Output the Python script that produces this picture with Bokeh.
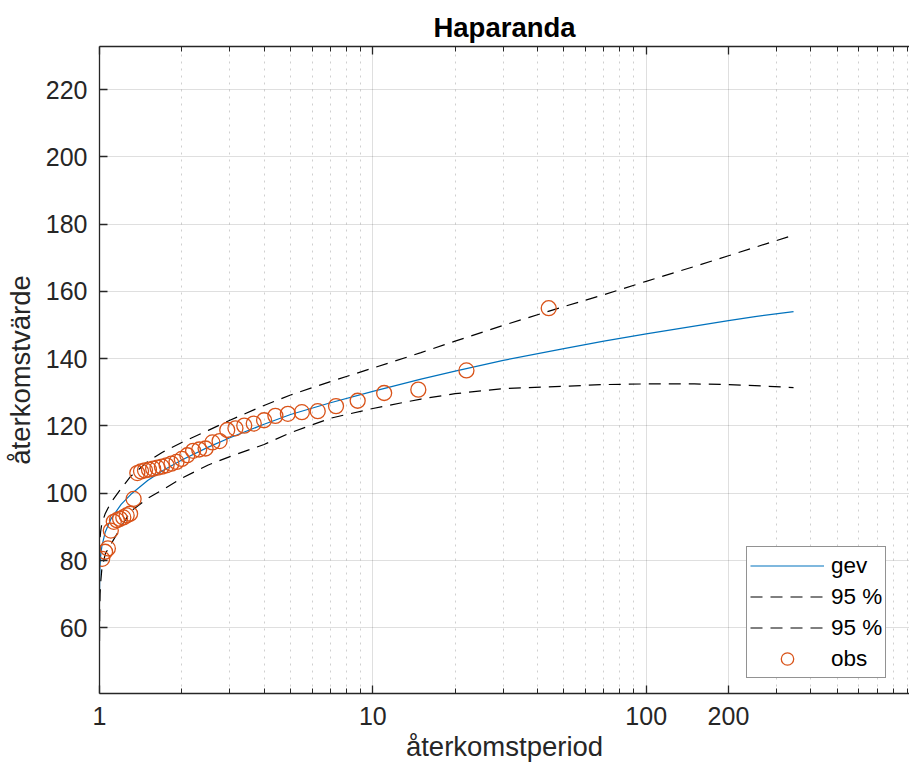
from bokeh.plotting import figure
from bokeh.models import (Range1d, FixedTicker, LogAxis, Legend, LegendItem,
                          CustomJSTickFormatter)
from bokeh.embed import file_html
from bokeh.resources import INLINE

# ---- data ----
title_text = "Haparanda"
x_label = "återkomstperiod"
y_label = "återkomstvärde"

# observed values, ranked from the largest down, with their return periods
obs_T = [44, 22, 14.667, 11, 8.8, 7.333, 6.286, 5.5, 4.889, 4.4,
         4.0, 3.667, 3.385, 3.143, 2.933, 2.75, 2.588, 2.444, 2.316, 2.2,
         2.095, 2.0, 1.913, 1.833, 1.76, 1.692, 1.63, 1.571, 1.517, 1.467,
         1.419, 1.375, 1.333, 1.294, 1.257, 1.222, 1.189, 1.158, 1.128, 1.1,
         1.073, 1.048, 1.023]
obs_val = [155.0, 136.5, 130.8, 129.8, 127.5, 125.9, 124.4, 124.1, 123.6, 123.0,
           121.7, 120.7, 120.1, 119.3, 118.8, 115.5, 115.1, 113.3, 113.0, 112.6,
           111.3, 110.2, 109.3, 108.8, 108.3, 107.9, 107.6, 107.3, 107.0, 106.8,
           106.5, 106.0, 98.3, 93.9, 93.4, 92.8, 92.4, 92.0, 91.5, 88.9,
           83.6, 82.6, 80.5]

# fitted curve and 95 % band, read at these return periods
curve_T = [1.0003, 1.002, 1.005, 1.01, 1.02, 1.05, 1.1, 1.2, 1.3, 1.5,
           1.7, 2, 2.5, 3, 4, 5, 7, 10, 15, 20,
           30, 50, 70, 100, 150, 200, 250, 346]
gev_val = [71.0, 76.1, 79.0, 81.5, 84.2, 88.5, 92.3, 96.7, 99.6, 103.8,
           106.7, 109.9, 113.7, 116.5, 120.5, 123.4, 126.9, 130.3, 133.9, 136.3,
           139.5, 143.0, 145.2, 147.4, 149.7, 151.3, 152.5, 154.0]
upper_val = [81.0, 84.5, 86.8, 88.7, 91.0, 94.0, 97.2, 101.4, 105.0, 109.4,
             112.2, 115.1, 118.7, 121.7, 126.1, 129.2, 133.2, 137.2, 141.8, 145.2,
             149.9, 155.5, 159.0, 163.0, 167.4, 170.6, 173.1, 176.7]
lower_val = [56.0, 65.0, 70.0, 73.5, 77.5, 82.0, 84.8, 90.0, 94.6, 98.5,
             101.0, 104.5, 108.4, 110.9, 114.5, 118.0, 122.3, 125.2, 128.0, 129.6,
             131.1, 131.8, 132.3, 132.5, 132.5, 132.3, 132.0, 131.4]

x_major = [1, 10, 100, 200]
x_minor = [2, 3, 4, 5, 6, 7, 8, 9, 20, 30, 40, 50, 60, 70, 80, 90,
           300, 400, 500, 600, 700, 800, 900]
y_major = [60, 80, 100, 120, 140, 160, 180, 200, 220]

FONT = "Liberation Sans"
AX = "#262626"

p = figure(width=909, height=769, x_axis_type="log",
           x_range=Range1d(1, 919), y_range=Range1d(40.47, 232.8),
           output_backend="svg", toolbar_location=None,
           min_border_left=99, min_border_right=0,
           min_border_top=46, min_border_bottom=76)
p.outline_line_color = None
p.background_fill_color = "white"
p.border_fill_color = "white"

p.title.text = title_text
p.title.text_font = FONT
p.title.text_font_size = "27.5px"
p.title.text_font_style = "bold"
p.title.text_color = "black"
p.title.align = "center"
p.title.offset = 12
p.title.standoff = 8

xt = FixedTicker(ticks=x_major, minor_ticks=x_minor)
yt = FixedTicker(ticks=y_major)
fmt = CustomJSTickFormatter(code="return String(tick);")

xa = p.xaxis[0]
xa.ticker = xt
xa.formatter = fmt
ya = p.yaxis[0]
ya.ticker = yt

for ax in (xa, ya):
    ax.axis_line_color = AX
    ax.axis_line_width = 1.3
    ax.major_tick_line_color = AX
    ax.major_tick_line_width = 1.3
    ax.major_tick_in = 8
    ax.major_tick_out = 0
    ax.minor_tick_line_color = AX
    ax.minor_tick_in = 5
    ax.minor_tick_out = 0
    ax.major_label_text_font = FONT
    ax.major_label_text_font_size = "25px"
    ax.major_label_text_color = AX
    ax.axis_label_text_font = FONT
    ax.axis_label_text_font_size = "27.5px"
    ax.axis_label_text_font_style = "normal"
    ax.axis_label_text_color = AX
ya.minor_tick_line_color = None
xa.axis_label = x_label
ya.axis_label = y_label
xa.major_label_standoff = 13
xa.axis_label_standoff = 3
ya.major_label_standoff = 12
ya.axis_label_standoff = 7

top = LogAxis(ticker=xt, formatter=CustomJSTickFormatter(code="return '';"))
top.axis_line_color = AX
top.axis_line_width = 1.3
top.major_tick_line_color = AX
top.major_tick_line_width = 1.3
top.major_tick_in = 8
top.major_tick_out = 0
top.minor_tick_line_color = AX
top.minor_tick_in = 5
top.minor_tick_out = 0
top.major_label_text_font_size = "1px"
top.major_label_standoff = 0
p.add_layout(top, "above")

p.xgrid.ticker = xt
p.ygrid.ticker = yt
p.xgrid.grid_line_color = AX
p.xgrid.grid_line_alpha = 0.15
p.xgrid.minor_grid_line_color = AX
p.xgrid.minor_grid_line_alpha = 0.22
p.xgrid.minor_grid_line_dash = "2 5"
p.ygrid.grid_line_color = AX
p.ygrid.grid_line_alpha = 0.15

r_gev = p.line(curve_T, gev_val, line_color="#0072BD", line_width=1.2)
r_up = p.line(curve_T, upper_val, line_color="black", line_width=1.2, line_dash="12 8")
r_lo = p.line(curve_T, lower_val, line_color="black", line_width=1.2, line_dash="12 8")
r_obs = p.scatter(obs_T, obs_val, marker="circle", size=15, fill_color=None,
                  line_color="#D95319", line_width=1.3)

legend = Legend(items=[LegendItem(label="gev", renderers=[r_gev]),
                       LegendItem(label="95 %", renderers=[r_up]),
                       LegendItem(label="95 %", renderers=[r_lo]),
                       LegendItem(label="obs", renderers=[r_obs])],
                location=(647, 15))
legend.margin = 0
legend.padding = 3
legend.spacing = 0
legend.glyph_width = 74
legend.glyph_height = 31
legend.label_height = 24
legend.label_standoff = 7
legend.label_text_font = FONT
legend.label_text_font_size = "22.5px"
legend.label_text_color = "black"
legend.border_line_color = AX
legend.border_line_width = 1
legend.background_fill_color = "white"
legend.background_fill_alpha = 1
p.add_layout(legend, "center")

open("out.html", "w").write(file_html(p, INLINE, title="Haparanda"))
